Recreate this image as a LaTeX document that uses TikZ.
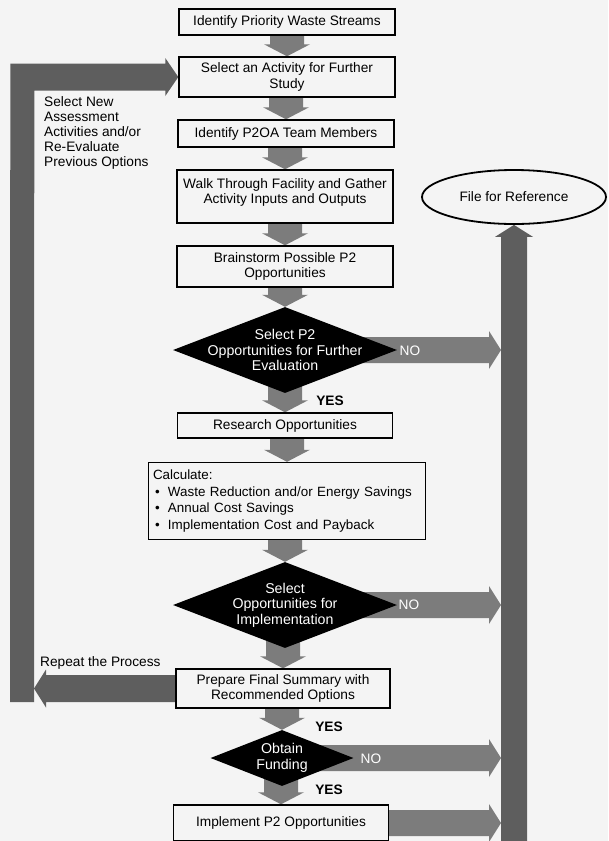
\documentclass[tikz,border=0pt]{standalone}
\usepackage{fontspec}
\setmainfont{Liberation Sans}
\usetikzlibrary{shapes.geometric,calc}
\definecolor{bgc}{HTML}{F4F4F4}
\definecolor{arrc}{HTML}{7C7C7C}
\definecolor{barc}{HTML}{5E5E5E}
\pgfdeclarelayer{bg}
\pgfsetlayers{bg,main}
% fat vertical arrow from node #1 (south) to node #2 (north)
\newcommand\DownFat[2]{%
  \fill[arrc] ($(#2.north |- #1.south)+(-17,-10)$) -- ($(#2.north)+(-17,-12)$) -- ($(#2.north)+(-23,-12)$) -- (#2.north) -- ($(#2.north)+(23,-12)$) -- ($(#2.north)+(17,-12)$) -- ($(#2.north |- #1.south)+(17,-10)$) -- cycle;}
% fat horizontal arrow pointing right, from #2 to tip #3, colour #1
\newcommand\RightFat[3]{%
  \fill[#1] ($(#2)+(0,-13)$) -- ($(#3)+(-12,-13)$) -- ($(#3)+(-12,-19)$) -- (#3) -- ($(#3)+(-12,19)$) -- ($(#3)+(-12,13)$) -- ($(#2)+(0,13)$) -- cycle;}
% fat horizontal arrow pointing left
\newcommand\LeftFat[3]{%
  \fill[#1] ($(#2)+(0,-13.5)$) -- ($(#3)+(12,-13.5)$) -- ($(#3)+(12,-19)$) -- (#3) -- ($(#3)+(12,19)$) -- ($(#3)+(12,13.5)$) -- ($(#2)+(0,13.5)$) -- cycle;}
\begin{document}
\begin{tikzpicture}[x=1pt,y=-1pt,
  every node/.style={font=\fontsize{13.7}{15.5}\selectfont},
  box/.style={draw=black,line width=1.4pt,fill=bgc,align=center,inner sep=2pt,minimum width=216},
  decision/.style={diamond,fill=black,inner sep=0pt},
  dtext/.style={text=white,align=center,font=\fontsize{14.2}{15.5}\selectfont},
  yes/.style={font=\bfseries\fontsize{13.7}{15}\selectfont},
  nolab/.style={text=white,font=\fontsize{13.7}{15}\selectfont}]
\clip (0,0) rectangle (608,841);

\node[box,minimum height=26] (s1) at (287,22) {Identify Priority Waste Streams};
\node[box,minimum height=40] (s2) at (287,77) {Select an Activity for Further\\Study};
\node[box,minimum height=27] (s3) at (286,133.5) {Identify P2OA Team Members};
\node[box,minimum height=53] (s4) at (285,196.5) {Walk Through Facility and Gather\\Activity Inputs and Outputs\\[-5pt]};
\node[box,minimum height=41] (s5) at (285,266.5) {Brainstorm Possible P2\\Opportunities};
\node[decision,minimum width=224,minimum height=86,
  label={[dtext]center:Select P2\\Opportunities for Further\\Evaluation}] (d1) at (285,350) {};
\node[box,minimum height=25,minimum width=215] (s6) at (285,425.5) {Research Opportunities};
\node[box,minimum width=277,minimum height=77,text width=268,inner xsep=4.5pt,align=left,
  font=\fontsize{13.4}{16.5}\selectfont] (s7) at (287,501) {Calculate:\\
\hspace*{2pt}\makebox[13pt][l]{\textbullet}Waste Reduction and/or Energy Savings\\
\hspace*{2pt}\makebox[13pt][l]{\textbullet}Annual Cost Savings\\
\hspace*{2pt}\makebox[13pt][l]{\textbullet}Implementation Cost and Payback};
\node[decision,minimum width=224,minimum height=86,
  label={[dtext]center:Select\\Opportunities for\\Implementation}] (d2) at (285,605) {};
\node[box,minimum height=39,minimum width=214] (s8) at (283,688.5) {Prepare Final Summary with\\Recommended Options};
\node[decision,minimum width=143,minimum height=56,
  label={[dtext]center:Obtain\\Funding}] (d3) at (282,758) {};
\node[box,minimum height=36,minimum width=215] (s9) at (281,823) {Implement P2 Opportunities};
\node[draw=black,ellipse,line width=1.8pt,fill=bgc,minimum width=184,minimum height=54,inner sep=0pt] (file) at (514,197) {File for Reference};

% labels
\node[align=left,anchor=north west,inner sep=0pt,font=\fontsize{13.7}{15}\selectfont] (lbl) at (44,96) {Select New\\Assessment\\Activities and/or\\Re-Evaluate\\Previous Options};
\node[anchor=west,inner sep=0pt] (rep) at (40,663) {Repeat the Process};
\node[yes] (y1) at (330,401) {YES};
\node[yes] (y2) at (329,727) {YES};
\node[yes] (y3) at (329,790) {YES};
\node[nolab] (n1) at (410,351) {NO};
\node[nolab] (n2) at (409,605) {NO};
\node[nolab] (n3) at (371,759) {NO};

% coordinates of the bars
\coordinate (rb) at ($(file.south)+(-13,0)$);
\coordinate (t1) at (rb |- d1.center);
\coordinate (t2) at (rb |- d2.center);
\coordinate (t3) at (rb |- d3.center);
\coordinate (t4) at (rb |- s9.east);
\coordinate (lb) at (34,0);
\coordinate (t5) at (lb |- s8.west);

\begin{pgfonlayer}{bg}
  \fill[bgc] (0,0) rectangle (608,841);
  \DownFat{s1}{s2}
  \DownFat{s2}{s3}
  \DownFat{s3}{s4}
  \DownFat{s4}{s5}
  \DownFat{s5}{d1}
  \DownFat{d1}{s6}
  \DownFat{s6}{s7}
  \DownFat{s7}{d2}
  \DownFat{d2}{s8}
  \DownFat{s8}{d3}
  \DownFat{d3}{s9}
  \RightFat{arrc}{d1.center}{t1}
  \RightFat{arrc}{d2.center}{t2}
  \RightFat{arrc}{d3.center}{t3}
  \RightFat{arrc}{s9.center}{t4}
  \LeftFat{barc}{s8.center}{t5}
  % right bar with arrow head into the ellipse
  \fill[barc] ($(file.south)+(-13,660)$) -- ($(file.south)+(-13,12)$) -- ($(file.south)+(-19,12)$) -- (file.south) -- ($(file.south)+(19,12)$) -- ($(file.south)+(13,12)$) -- ($(file.south)+(13,660)$) -- cycle;
  % left loop bar into "Select an Activity"
  \fill[barc] ($(t5)+(-24,13.5)$) -- ($(s2.west)+(-168,-13.5)$) -- ($(s2.west)+(-13,-13.5)$) -- ($(s2.west)+(-13,-19)$) -- (s2.west) -- ($(s2.west)+(-13,19)$) -- ($(s2.west)+(-13,13.5)$) -- ($(s2.west)+(-144,13.5)$) -- ($(t5)+(0,13.5)$) -- cycle;
\end{pgfonlayer}
\end{tikzpicture}
\end{document}
